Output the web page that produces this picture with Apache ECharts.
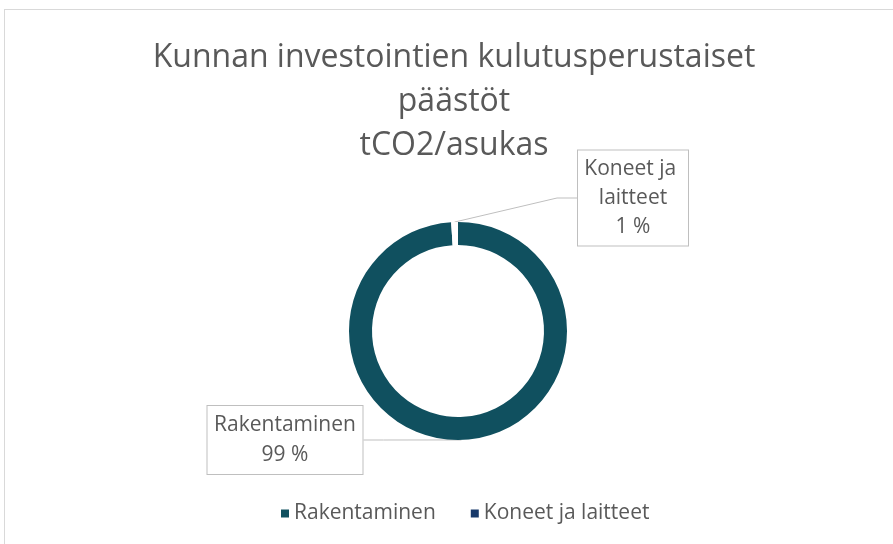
<!DOCTYPE html>
<html>
<head>
<meta charset="utf-8">
<script src="https://cdn.jsdelivr.net/npm/echarts@6/dist/echarts.min.js"></script>
<style>
  html, body { margin: 0; padding: 0; background: #fff; overflow: hidden; }
  #chart {
    position: absolute;
    left: 4px;
    top: 9px;
    width: 900px;
    height: 545px;
    border: 1px solid #d9d9d9;
    box-sizing: border-box;
  }
</style>
</head>
<body>
<div id="chart"></div>
<script>
// chart data
const titleLines = ['Kunnan investointien kulutusperustaiset', 'päästöt', 'tCO2/asukas']
const categories = ['Rakentaminen', 'Koneet ja laitteet']
const shares = [99, 1]
const legendColors = ['#10505f', '#17396a']

const chart = echarts.init(document.getElementById('chart'))

// label boxes, roughly where the callouts sit in the picture
const labelBoxes = [
  { width: 143, lineHeight: 30, x: 280, y: 430 },
  { width: 98, lineHeight: 29, x: 628, y: 188 }
]

const sliceColors = ['#10505f', '#ffffff']

const pieData = categories.map((name, i) => ({
  name: name,
  value: shares[i],
  itemStyle: { color: sliceColors[i] },
  label: {
    width: labelBoxes[i].width,
    lineHeight: labelBoxes[i].lineHeight
  }
}))

const option = {
  title: {
    text: titleLines.join('\n'),
    left: 'center',
    top: 21,
    textStyle: {
      fontFamily: 'Open Sans',
      fontSize: 32,
      fontWeight: 'normal',
      color: '#595959',
      lineHeight: 44
    }
  },
  legend: {
    bottom: 24,
    left: 271,
    icon: 'rect',
    itemWidth: 8,
    itemHeight: 8,
    itemGap: 35,
    textStyle: {
      fontFamily: 'Open Sans',
      fontSize: 21,
      color: '#595959'
    },
    data: categories.map((name, i) => ({
      name: name,
      itemStyle: { color: legendColors[i] }
    }))
  },
  series: [
    {
      type: 'pie',
      center: [453, 321],
      radius: [86, 109],
      startAngle: 90,
      clockwise: true,
      avoidLabelOverlap: false,
      silent: true,
      label: {
        show: true,
        position: 'outside',
        fontFamily: 'Open Sans',
        fontSize: 21,
        color: '#595959',
        align: 'center',
        overflow: 'break',
        backgroundColor: '#fff',
        borderColor: '#bfbfbf',
        borderWidth: 1,
        padding: [4, 6],
        formatter: p => p.name + '\n' + Math.round(p.percent) + ' %'
      },
      labelLine: {
        show: true,
        length: 20,
        length2: 20,
        lineStyle: { color: '#bfbfbf', width: 1 }
      },
      labelLayout: p => ({
        x: labelBoxes[p.dataIndex].x,
        y: labelBoxes[p.dataIndex].y,
        align: 'center',
        verticalAlign: 'middle'
      }),
      data: pieData
    }
  ]
}

chart.setOption(option)
</script>
</body>
</html>
